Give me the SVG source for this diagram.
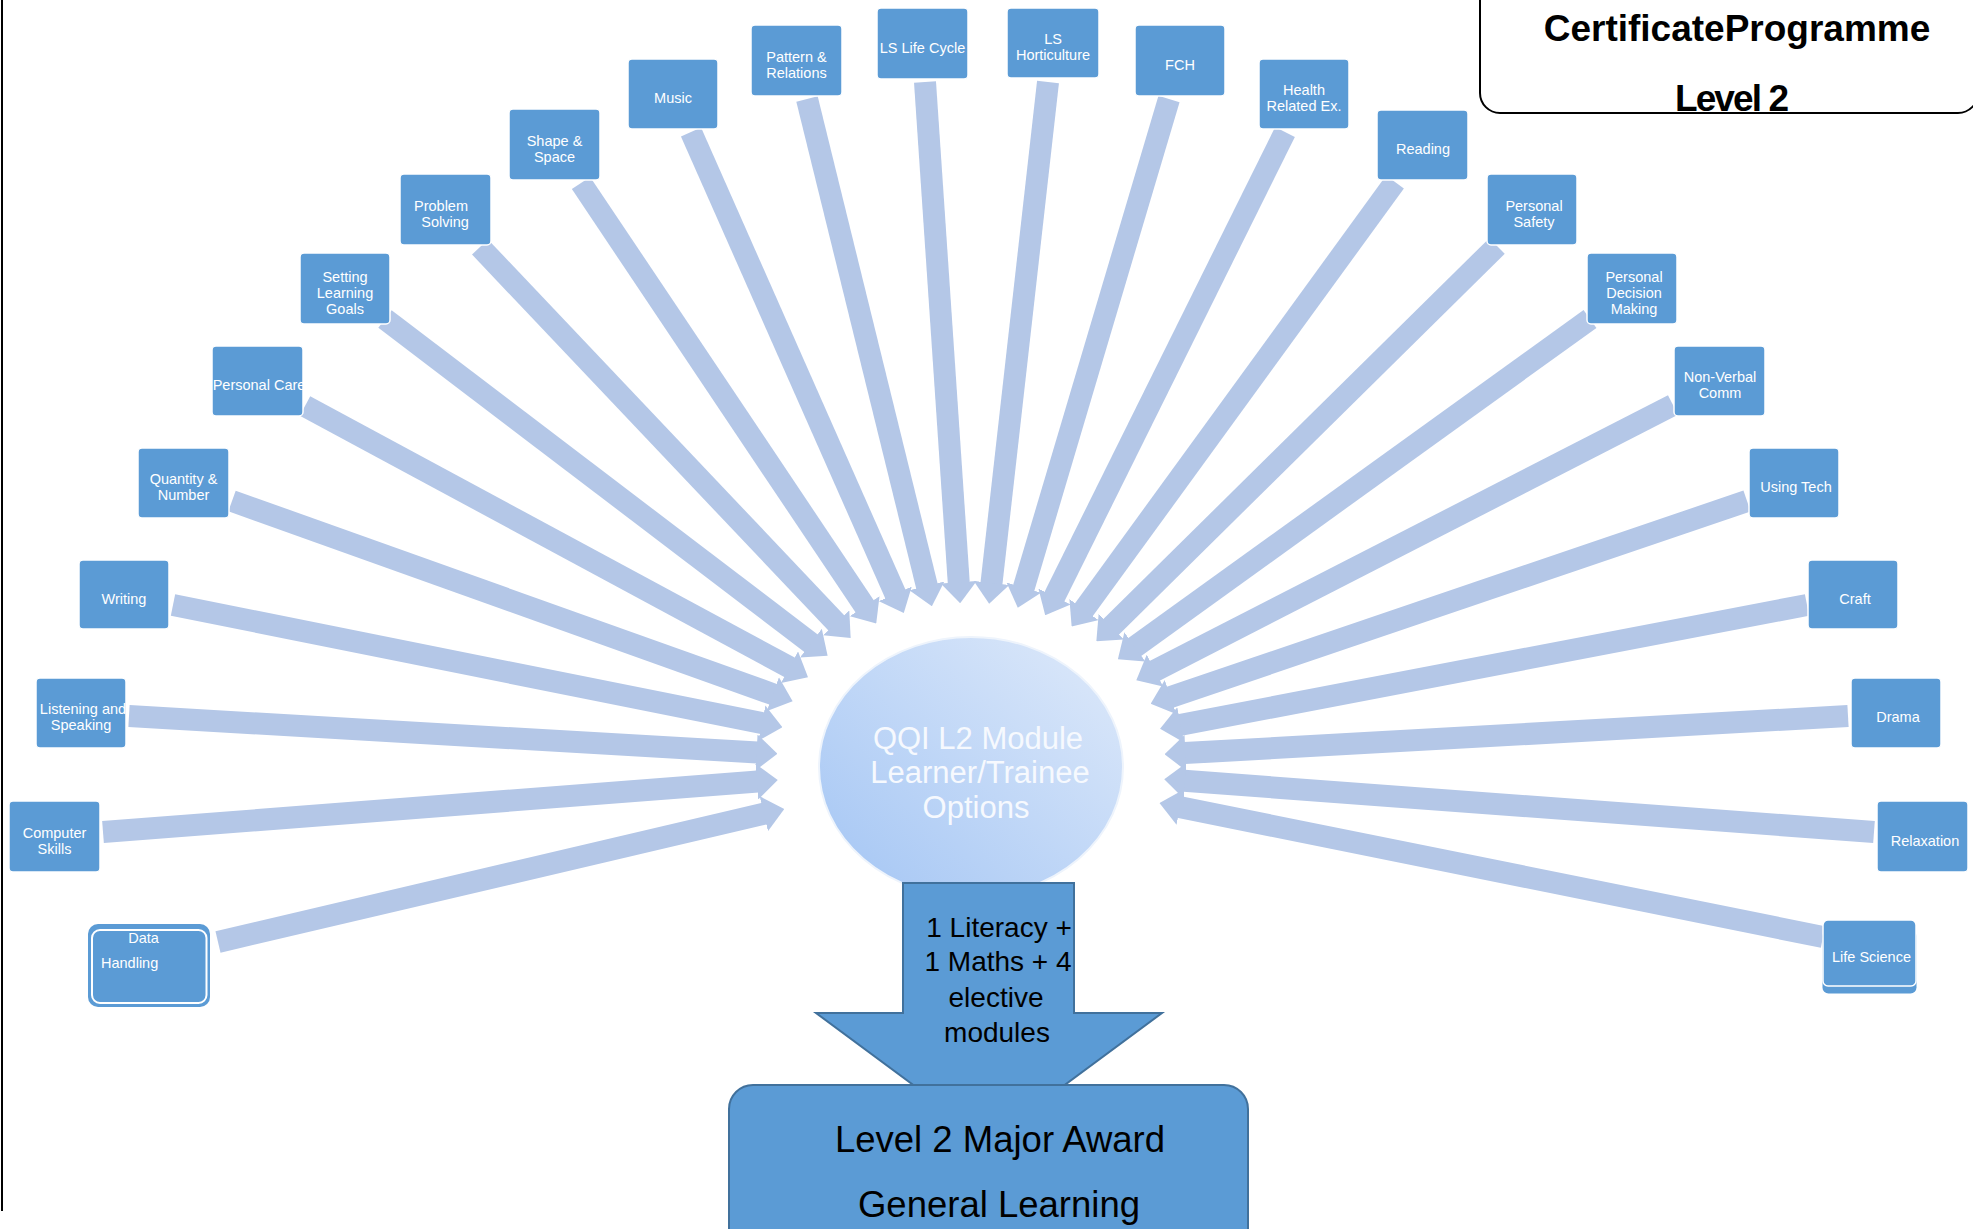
<svg xmlns="http://www.w3.org/2000/svg" width="1973" height="1229" viewBox="0 0 1973 1229">
<style>
.node rect.box{fill:#5b9bd5;stroke:#ffffff;stroke-width:1.5}
.nt{font-family:"Liberation Sans",Arial,sans-serif;font-size:14.5px;fill:#ffffff;text-anchor:middle}
.conn line{stroke:#b4c7e7;stroke-width:22;marker-end:url(#ah)}
.big{font-family:"Liberation Sans",Arial,sans-serif;fill:#000000;text-anchor:middle}
</style>
<defs>
<marker id="ah" markerUnits="userSpaceOnUse" viewBox="0 -18 21 36" markerWidth="21" markerHeight="36" refX="1" refY="0" orient="auto">
<path d="M0,-18L21,0L0,18Z" fill="#b4c7e7"/>
</marker>
<linearGradient id="eg" x1="0" y1="1" x2="1" y2="0">
<stop offset="0" stop-color="#a3c5f4"/>
<stop offset="1" stop-color="#dfeafa"/>
</linearGradient>
</defs>
<rect x="0" y="0" width="1973" height="1229" fill="#ffffff"/>
<line x1="2" y1="0" x2="2" y2="1211" stroke="#000000" stroke-width="2"/>

<g id="title">
<rect x="1480" y="-40" width="498" height="153" rx="20" fill="#ffffff" stroke="#000000" stroke-width="2"/>
<text class="big" x="1737" y="41" font-size="37" font-weight="bold">CertificateProgramme</text>
<text class="big" x="1732" y="111" font-size="37" font-weight="bold" textLength="114" lengthAdjust="spacing">Level 2</text>
</g>

<g id="connectors" class="conn">
<line x1="218" y1="942" x2="764.8" y2="813.5"/>
<line x1="103" y1="832" x2="757.8" y2="781.5"/>
<line x1="129" y1="716" x2="757.5" y2="752.6"/>
<line x1="173" y1="605" x2="762.8" y2="723.3"/>
<line x1="232" y1="501" x2="773.8" y2="694.5"/>
<line x1="305" y1="406" x2="790.4" y2="667.7"/>
<line x1="385" y1="319" x2="811.7" y2="643.7"/>
<line x1="480" y1="247" x2="836.9" y2="623.5"/>
<line x1="581" y1="183" x2="865.1" y2="607.0"/>
<line x1="691" y1="132" x2="895.7" y2="594.8"/>
<line x1="807" y1="99" x2="927.1" y2="586.8"/>
<line x1="925" y1="82" x2="958.8" y2="583.3"/>
<line x1="1048" y1="82" x2="991.4" y2="583.9"/>
<line x1="1169" y1="99" x2="1023.5" y2="588.6"/>
<line x1="1285" y1="132" x2="1054.1" y2="597.4"/>
<line x1="1395" y1="182" x2="1083.4" y2="610.4"/>
<line x1="1497" y1="246" x2="1110.6" y2="627.3"/>
<line x1="1590" y1="319" x2="1134.1" y2="647.5"/>
<line x1="1673" y1="405" x2="1154.1" y2="671.1"/>
<line x1="1747" y1="501" x2="1169.6" y2="697.4"/>
<line x1="1807" y1="605" x2="1179.7" y2="725.0"/>
<line x1="1848" y1="716" x2="1184.5" y2="753.1"/>
<line x1="1874" y1="832" x2="1184.2" y2="780.8"/>
<line x1="1823" y1="937" x2="1179.1" y2="807.0"/>
</g>

<g id="center">
<ellipse cx="971" cy="767" rx="152" ry="130" fill="url(#eg)" stroke="#eef4fc" stroke-width="2"/>
<text class="big" x="978" y="749" font-size="31" fill="#f6f9fe" style="fill:#f6f9fe">QQI L2 Module</text>
<text class="big" x="980" y="783" font-size="31" style="fill:#f6f9fe">Learner/Trainee</text>
<text class="big" x="976" y="818" font-size="31" style="fill:#f6f9fe">Options</text>
</g>

<g id="down-arrow">
<path d="M903,883 L1074,883 L1074,1013 L1162,1013 L989,1141 L816,1013 L903,1013 Z" fill="#5b9bd5" stroke="#41719c" stroke-width="2"/>
<text class="big" x="999" y="937" font-size="28">1 Literacy +</text>
<text class="big" x="998" y="971" font-size="28">1 Maths + 4</text>
<text class="big" x="996" y="1007" font-size="28">elective</text>
<text class="big" x="997" y="1042" font-size="28">modules</text>
</g>

<g id="award">
<rect x="729" y="1085" width="519" height="170" rx="24" fill="#5b9bd5" stroke="#41719c" stroke-width="2"/>
<text class="big" x="1000" y="1152" font-size="36.5">Level 2 Major Award</text>
<text class="big" x="999" y="1217" font-size="36.5">General Learning</text>
</g>

<g id="n-data-handling" class="node">
<rect x="88" y="924" width="122" height="83" rx="10" fill="#5b9bd5"/>
<rect x="92" y="930" width="114.5" height="73" rx="8" fill="none" stroke="#ffffff" stroke-width="2"/>
<text class="nt" x="143.5" y="943">Data</text>
<text class="nt" x="101" y="967.5" style="text-anchor:start">Handling</text>
</g>
<g id="n-computer-skills" class="node"><rect class="box" x="9" y="801" width="91" height="71" rx="4"/><text class="nt" x="54.5" y="837.5">Computer</text><text class="nt" x="54.5" y="853.5">Skills</text></g>
<g id="n-listening" class="node"><rect class="box" x="36" y="678" width="90" height="70" rx="4"/><text class="nt" x="83" y="714">Listening and</text><text class="nt" x="81" y="730">Speaking</text></g>
<g id="n-writing" class="node"><rect class="box" x="79" y="560" width="90" height="69" rx="4"/><text class="nt" x="124" y="603.5">Writing</text></g>
<g id="n-quantity" class="node"><rect class="box" x="138" y="448" width="91" height="70" rx="4"/><text class="nt" x="183.5" y="484">Quantity &amp;</text><text class="nt" x="183.5" y="500">Number</text></g>
<g id="n-personal-care" class="node"><rect class="box" x="212" y="346" width="91" height="70" rx="4"/><text class="nt" x="259" y="390">Personal Care</text></g>
<g id="n-slg" class="node"><rect class="box" x="300" y="253" width="90" height="71" rx="4"/><text class="nt" x="345" y="281.5">Setting</text><text class="nt" x="345" y="297.5">Learning</text><text class="nt" x="345" y="313.5">Goals</text></g>
<g id="n-problem" class="node"><rect class="box" x="400" y="174" width="91" height="71" rx="4"/><text class="nt" x="441" y="210.5">Problem</text><text class="nt" x="445" y="226.5">Solving</text></g>
<g id="n-shape" class="node"><rect class="box" x="509" y="109" width="91" height="71" rx="4"/><text class="nt" x="554.5" y="145.5">Shape &amp;</text><text class="nt" x="554.5" y="161.5">Space</text></g>
<g id="n-music" class="node"><rect class="box" x="628" y="59" width="90" height="70" rx="4"/><text class="nt" x="673" y="103">Music</text></g>
<g id="n-pattern" class="node"><rect class="box" x="751" y="25" width="91" height="71" rx="4"/><text class="nt" x="796.5" y="61.5">Pattern &amp;</text><text class="nt" x="796.5" y="77.5">Relations</text></g>
<g id="n-ls-life" class="node"><rect class="box" x="877" y="8" width="91" height="71" rx="4"/><text class="nt" x="922.5" y="52.5">LS Life Cycle</text></g>
<g id="n-ls-hort" class="node"><rect class="box" x="1007" y="8" width="92" height="70" rx="4"/><text class="nt" x="1053" y="44">LS</text><text class="nt" x="1053" y="60">Horticulture</text></g>
<g id="n-fch" class="node"><rect class="box" x="1135" y="25" width="90" height="71" rx="4"/><text class="nt" x="1180" y="69.5">FCH</text></g>
<g id="n-health" class="node"><rect class="box" x="1259" y="59" width="90" height="70" rx="4"/><text class="nt" x="1304" y="95">Health</text><text class="nt" x="1304" y="111">Related Ex.</text></g>
<g id="n-reading" class="node"><rect class="box" x="1377" y="110" width="91" height="70" rx="4"/><text class="nt" x="1423" y="154">Reading</text></g>
<g id="n-safety" class="node"><rect class="box" x="1487" y="174" width="90" height="71" rx="4"/><text class="nt" x="1534" y="210.5">Personal</text><text class="nt" x="1534" y="226.5">Safety</text></g>
<g id="n-decision" class="node"><rect class="box" x="1587" y="253" width="90" height="71" rx="4"/><text class="nt" x="1634" y="281.5">Personal</text><text class="nt" x="1634" y="297.5">Decision</text><text class="nt" x="1634" y="313.5">Making</text></g>
<g id="n-nonverbal" class="node"><rect class="box" x="1674" y="346" width="91" height="70" rx="4"/><text class="nt" x="1720" y="382">Non-Verbal</text><text class="nt" x="1720" y="398">Comm</text></g>
<g id="n-tech" class="node"><rect class="box" x="1749" y="448" width="90" height="70" rx="4"/><text class="nt" x="1796" y="492">Using Tech</text></g>
<g id="n-craft" class="node"><rect class="box" x="1808" y="560" width="90" height="69" rx="4"/><text class="nt" x="1855" y="603.5">Craft</text></g>
<g id="n-drama" class="node"><rect class="box" x="1851" y="678" width="90" height="70" rx="4"/><text class="nt" x="1898" y="722">Drama</text></g>
<g id="n-relaxation" class="node"><rect class="box" x="1877" y="801" width="91" height="71" rx="4"/><text class="nt" x="1925" y="845.5">Relaxation</text></g>
<g id="n-life-science" class="node">
<rect x="1822.5" y="930" width="94" height="63.5" rx="6" fill="#5b9bd5"/>
<rect class="box" x="1823" y="920" width="93" height="66" rx="5"/>
<text class="nt" x="1871.5" y="961.5">Life Science</text>
</g>
</svg>
